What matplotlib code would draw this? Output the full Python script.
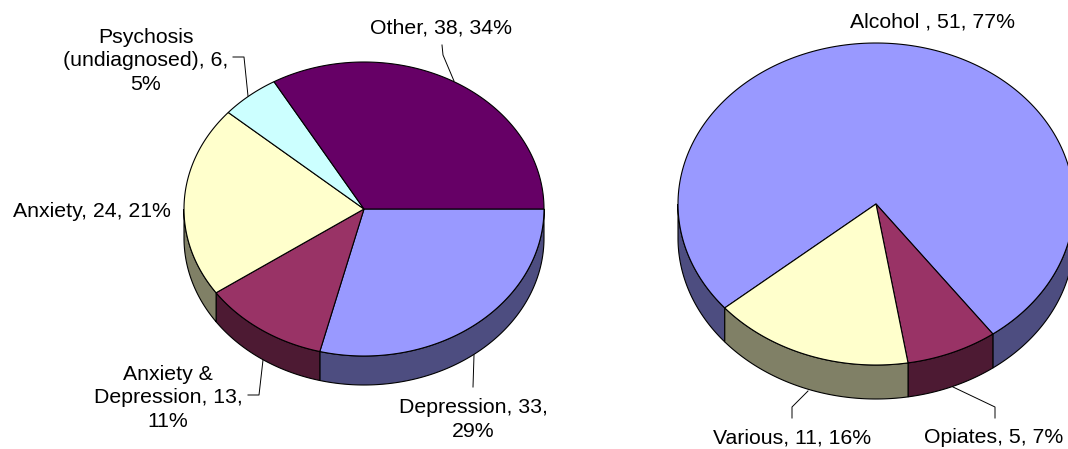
import matplotlib.pyplot as plt
import numpy as np
from matplotlib.patches import Polygon

plt.rcParams['font.family'] = ['Liberation Sans', 'DejaVu Sans']

# Mental health diagnosis split
LEFT_NAMES  = ['Depression', 'Anxiety &\nDepression', 'Anxiety', 'Psychosis\n(undiagnosed)', 'Other']
LEFT_VALUES = [33, 13, 24, 6, 38]
LEFT_PCTS   = [29, 11, 21, 5, 34]
LEFT_WRAP   = [True, True, False, True, False]
LEFT_COLORS = ['#9999FF', '#993366', '#FFFFCC', '#CCFFFF', '#660066']

# Substance misuse split
RIGHT_NAMES  = ['Alcohol ', 'Opiates', 'Various']
RIGHT_VALUES = [51, 5, 11]
RIGHT_PCTS   = [77, 7, 16]
RIGHT_WRAP   = [False, False, False]
RIGHT_COLORS = ['#9999FF', '#993366', '#FFFFCC']


def shade(color, f=0.5):
    r, g, b = [int(color[i:i + 2], 16) / 255 for i in (1, 3, 5)]
    return (r * f, g * f, b * f)


def label_text(name, value, pct, wrap):
    sep = '\n' if wrap else ' '
    return f"{name}, {value},{sep}{pct}%"


def draw_pie3d(ax, values, colors, cx, cy, rx, ry, depth, start):
    """Clockwise 3D pie in pixel coordinates (y axis pointing down)."""
    values = np.asarray(values, dtype=float)
    spans = values / values.sum() * 360.0
    ends = start - np.cumsum(spans)
    starts = ends + spans

    def pt(theta, dy=0.0):
        t = np.radians(theta)
        return cx + rx * np.cos(t), cy - ry * np.sin(t) + dy

    # front walls first
    for a_hi, a_lo, col in zip(starts, ends, colors):
        lo = a_lo % 360
        hi = lo + (a_hi - a_lo)
        for w0, w1 in [(180, 360), (540, 720)]:
            s0, s1 = max(lo, w0), min(hi, w1)
            if s1 <= s0:
                continue
            th = np.linspace(s0, s1, 120)
            top = np.array([pt(t) for t in th])
            bot = np.array([pt(t, depth) for t in th[::-1]])
            ax.add_patch(Polygon(np.vstack([top, bot]), closed=True,
                                 facecolor=shade(col), edgecolor='black',
                                 linewidth=0.8, zorder=1))

    # top faces
    for a_hi, a_lo, col in zip(starts, ends, colors):
        th = np.linspace(a_hi, a_lo, 200)
        arc = np.array([pt(t) for t in th])
        verts = np.vstack([[cx, cy], arc])
        ax.add_patch(Polygon(verts, closed=True, facecolor=col,
                             edgecolor='black', linewidth=0.8, zorder=2))


fig = plt.figure(figsize=(10.68, 4.49), dpi=100)
ax = fig.add_axes([0, 0, 1, 1])
ax.set_xlim(0, 1068)
ax.set_ylim(449, 0)
ax.axis('off')

draw_pie3d(ax, LEFT_VALUES, LEFT_COLORS, 364, 209, 180, 147, 29, start=0)
draw_pie3d(ax, RIGHT_VALUES, RIGHT_COLORS, 876, 204, 198, 161, 34, start=220.2)

FS = 15.3
text_kw = dict(fontsize=FS, ha='center', va='baseline', linespacing=1.31, zorder=5)

# (x, baseline of the last line)
left_pos = [(473, 437), (168, 427), (92, 217), (146, 90), (441, 34)]
for name, v, p, w, (x, y) in zip(LEFT_NAMES, LEFT_VALUES, LEFT_PCTS, LEFT_WRAP, left_pos):
    ax.text(x, y, label_text(name, v, p, w), **text_kw)

right_pos = [(932, 27), (994, 443), (792, 443)]
for name, v, p, w, (x, y) in zip(RIGHT_NAMES, RIGHT_VALUES, RIGHT_PCTS, RIGHT_WRAP, right_pos):
    ax.text(x, y, label_text(name, v, p, w), **text_kw)

# leader lines
leaders = [
    [(473, 387), (474, 355)],
    [(248, 395), (259, 395), (263, 360)],
    [(233, 57), (244, 57), (248, 96)],
    [(442, 45), (443, 55), (454, 81)],
    [(792, 418), (792, 407), (808, 391)],
    [(995, 418), (995, 407), (953, 387)],
]
for pts in leaders:
    xs, ys = zip(*pts)
    ax.plot(xs, ys, color='black', linewidth=0.7, zorder=4)

plt.savefig('out.png', dpi=100)
